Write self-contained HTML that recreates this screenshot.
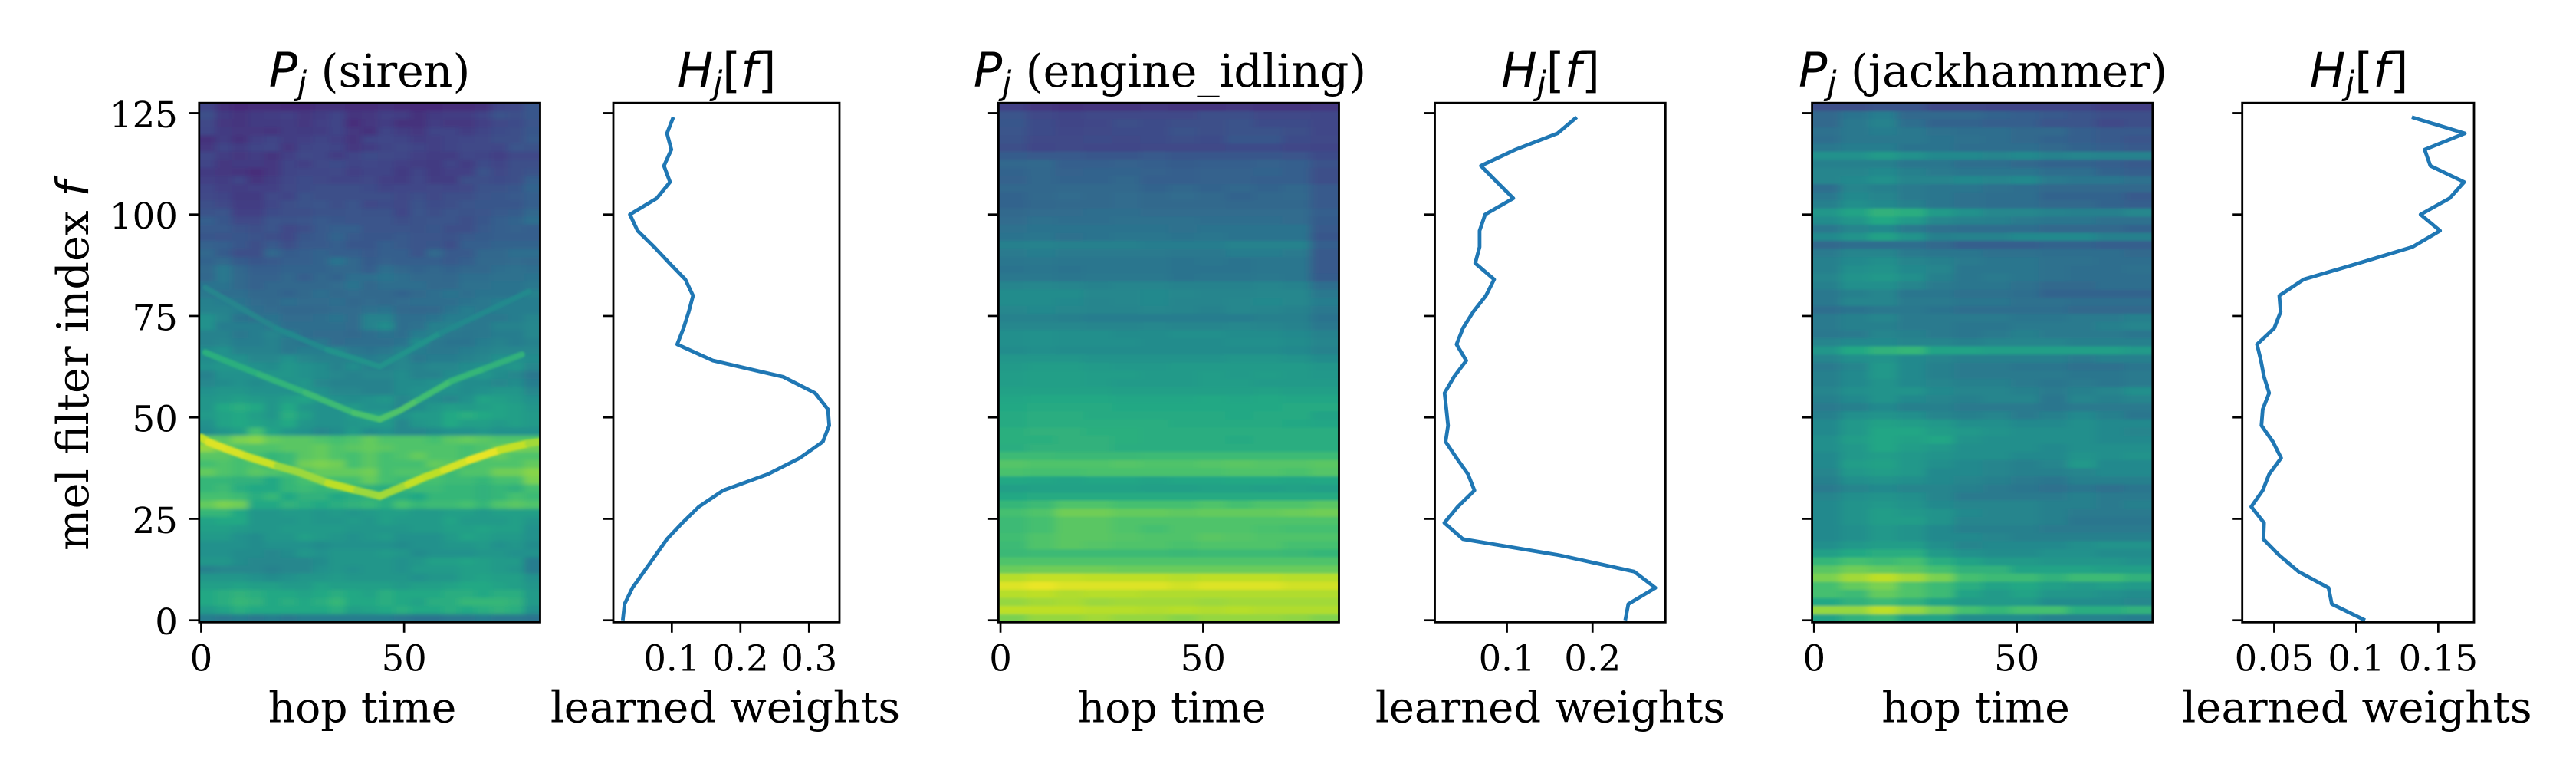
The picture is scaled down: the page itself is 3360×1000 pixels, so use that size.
<!DOCTYPE html>
<html lang="en">
<head>
<meta charset="utf-8">
<title>Learned mel filter weights</title>
<style>
html,body{margin:0;padding:0;background:#fff;}
svg{display:block;}
text{fill:#000;}
.ser{font-family:"DejaVu Serif","Liberation Serif",serif;}
.lab{font-size:55px;}
.lw{font-size:56px;}
.yl{font-size:57.5px;}
.ttl{font-size:58.5px;}
.tick{font-size:46.5px;}
.m{font-family:"DejaVu Sans","Liberation Sans",sans-serif;font-style:italic;}
.mu{font-family:"DejaVu Sans","Liberation Sans",sans-serif;font-style:normal;}
.big{font-size:62px;}
.sub{font-size:43px;}
</style>
</head>
<body>
<svg id="fig" xmlns="http://www.w3.org/2000/svg" width="3360" height="1000" viewBox="0 0 3360 1000">
<rect x="0" y="0" width="3360" height="1000" fill="#ffffff"/>
<defs>
<filter id="blurA" filterUnits="userSpaceOnUse" x="0" y="0" width="3360" height="1000"><feGaussianBlur stdDeviation="5 2.5"/></filter>
<filter id="blurB" filterUnits="userSpaceOnUse" x="0" y="0" width="3360" height="1000"><feGaussianBlur stdDeviation="6 1.5"/></filter>
<filter id="blurR" filterUnits="userSpaceOnUse" x="0" y="0" width="3360" height="1000"><feGaussianBlur stdDeviation="1.4"/></filter>
</defs>
<g id="plots"></g>

<text class="ser ttl" x="482" y="113" text-anchor="middle"><tspan class="m big">P</tspan><tspan class="m sub" dy="10">j</tspan><tspan dy="-10"> (siren)</tspan></text>
<text class="ser ttl" x="948" y="113" text-anchor="middle"><tspan class="m big">H</tspan><tspan class="m sub" dy="10">j</tspan><tspan class="mu big" dy="-10">[</tspan><tspan class="m big">f</tspan><tspan class="mu big">]</tspan></text>
<text class="ser ttl" x="1526" y="113" text-anchor="middle"><tspan class="m big">P</tspan><tspan class="m sub" dy="10">j</tspan><tspan dy="-10"> (engine_idling)</tspan></text>
<text class="ser ttl" x="2022.5" y="113" text-anchor="middle"><tspan class="m big">H</tspan><tspan class="m sub" dy="10">j</tspan><tspan class="mu big" dy="-10">[</tspan><tspan class="m big">f</tspan><tspan class="mu big">]</tspan></text>
<text class="ser ttl" x="2586.5" y="113" text-anchor="middle"><tspan class="m big">P</tspan><tspan class="m sub" dy="10">j</tspan><tspan dy="-10"> (jackhammer)</tspan></text>
<text class="ser ttl" x="3077" y="113" text-anchor="middle"><tspan class="m big">H</tspan><tspan class="m sub" dy="10">j</tspan><tspan class="mu big" dy="-10">[</tspan><tspan class="m big">f</tspan><tspan class="mu big">]</tspan></text>

<text class="ser yl" transform="translate(115,477) rotate(-90)" text-anchor="middle">mel filter index <tspan class="m">f</tspan></text>

<text class="ser lab" x="472.5" y="941.5" text-anchor="middle">hop time</text>
<text class="ser lw" x="946" y="941.5" text-anchor="middle">learned weights</text>
<text class="ser lab" x="1528.7" y="941.5" text-anchor="middle">hop time</text>
<text class="ser lw" x="2022" y="941.5" text-anchor="middle">learned weights</text>
<text class="ser lab" x="2577" y="941.5" text-anchor="middle">hop time</text>
<text class="ser lw" x="3074.5" y="941.5" text-anchor="middle">learned weights</text>
</svg>

<script>
// ---- tick values and labels ----
const melTicks = [0, 25, 50, 75, 100, 125];
const melTickLabels = ["0", "25", "50", "75", "100", "125"];
const hopTicks = [0, 50];
const hopTickLabels = ["0", "50"];
const sirenWeightTicks = [0.1, 0.2, 0.3];
const sirenWeightTickLabels = ["0.1", "0.2", "0.3"];
const engineWeightTicks = [0.1, 0.2];
const engineWeightTickLabels = ["0.1", "0.2"];
const jackhammerWeightTicks = [0.05, 0.1, 0.15];
const jackhammerWeightTickLabels = ["0.05", "0.1", "0.15"];

// ---- learned weight curves: mel filter index and H_j[f] ----
const weightMels = [0,4,8,12,16,20,24,28,32,36,40,44,48,52,56,60,64,68,72,76,80,84,88,92,96,100,104,108,112,116,120,124];
const sirenWeights = [.0285,.0311,.0426,.0594,.0762,.0929,.1153,.1395,.1749,.2400,.2866,.3201,.3294,.3276,.3089,.2624,.1600,.1078,.1171,.1246,.1309,.1197,.0966,.0743,.0501,.0389,.0780,.0974,.0885,.0993,.0929,.1022];
const engineWeights = [.2382,.2418,.2734,.2487,.1621,.0487,.0269,.0427,.0621,.0546,.0412,.0284,.0313,.0293,.0272,.0382,.0525,.0412,.0487,.0606,.0755,.0851,.0630,.0681,.0681,.0746,.1075,.0884,.0696,.1099,.1591,.1815];
const jackhammerWeights = [.1054,.0851,.0831,.0648,.0531,.0434,.0438,.0360,.0430,.0469,.0542,.0492,.0422,.0430,.0469,.0438,.0419,.0395,.0500,.0539,.0531,.0679,.1015,.1342,.1511,.1392,.1569,.1658,.1452,.1417,.1662,.1339];

// ---- spectrogram ridges in the siren panel ----
const sirenMainRidgeHops = [0,1.8,6.8,11.2,18.8,23.8,31.3,38.4,44,51,55.4,59.8,66.1,73.7,80.7,83.5];
const sirenMainRidgeMels = [45,43.9,42,40.4,38,36.6,33.8,32,30.6,33.5,35.4,37,39.5,42,43.6,44];
const sirenMainRidgeLevels = [88,94,96,92,92,78,92,88,82,90,92,88,99,94,88,84];
const sirenSecondRidgeHops = [1,14.3,25.7,37.7,44,49,53.5,61.7,70,79];
const sirenSecondRidgeMels = [66,60.6,56.1,51.1,49.5,51.7,54.3,59,62.1,65.5];
const sirenSecondRidgeLevels = [62,64,66,70,72,72,72,66,66,62];
const sirenThirdRidgeHops = [1,18.4,31,44,59,80.7];
const sirenThirdRidgeMels = [82,72,66.7,62.5,70.8,81];
const sirenThirdRidgeLevels = [44,46,48,54,48,46];

// ---- spectrogram levels (0-99), top row = highest mel band, each row 2 mels ----
const sirenHeat = [
[20,14,12,13,13,12,12,14,14,13,13,14,13,12,12,13,13,14,20,22,27],
[24,17,15,17,18,19,16,18,20,15,16,19,18,14,17,18,18,20,25,24,27],
[22,16,15,17,17,18,16,19,20,13,16,18,14,14,18,16,16,19,22,23,26],
[21,17,16,16,15,18,17,18,20,16,14,20,18,16,20,20,18,20,23,24,27],
[14,18,14,19,20,18,19,20,19,15,20,21,20,18,19,20,21,22,24,24,28],
[16,20,18,20,21,16,20,21,20,16,18,20,22,20,19,20,22,22,21,26,25],
[21,18,16,18,15,19,22,21,18,20,23,22,21,19,18,18,21,20,19,22,22],
[20,16,17,17,16,20,19,22,23,20,21,20,19,18,17,20,18,23,20,24,24],
[17,16,15,13,16,20,21,21,22,19,20,20,17,20,17,19,19,25,22,24,25],
[19,18,20,15,18,21,23,22,20,20,22,19,18,21,18,18,24,24,23,24,30],
[21,19,18,19,19,22,23,24,24,24,23,20,21,21,22,21,22,25,25,27,32],
[22,20,17,17,22,20,25,24,24,24,24,24,22,24,22,24,24,26,27,28,30],
[24,22,18,18,21,24,25,26,24,26,22,23,22,25,23,24,26,27,27,27,30],
[25,26,19,19,23,24,24,25,25,26,25,25,21,26,24,26,25,26,28,29,33],
[30,27,22,22,26,25,26,28,27,26,26,26,24,25,26,26,24,27,30,32,36],
[28,28,25,24,26,22,24,28,30,30,26,26,26,25,27,24,24,28,30,31,30],
[27,26,27,25,24,22,27,28,32,28,27,27,28,26,26,25,28,29,30,30,30],
[31,30,27,24,28,24,28,28,30,27,27,30,28,26,27,24,30,30,32,32,32],
[33,29,24,24,33,29,30,32,30,30,28,30,30,26,34,28,28,33,33,36,36],
[32,34,29,27,28,30,30,32,38,33,29,31,30,30,30,28,30,34,34,35,34],
[34,40,33,30,30,32,32,32,33,33,30,36,33,32,33,32,33,33,36,37,36],
[33,40,34,31,31,33,30,33,32,36,36,38,36,34,34,33,36,36,37,37,38],
[38,38,34,31,33,33,33,33,35,38,33,36,36,36,34,34,37,37,38,38,40],
[40,36,36,33,33,32,34,36,34,35,34,34,32,34,36,38,36,38,38,38,44],
[43,42,38,35,34,36,35,35,36,33,35,34,35,36,36,36,38,40,42,42,42],
[44,44,42,36,35,33,33,34,35,35,37,38,34,33,34,38,42,40,42,42,42],
[50,45,38,37,38,35,35,36,38,35,44,44,36,36,38,42,42,40,40,42,45],
[50,42,42,42,40,36,36,36,36,35,44,48,36,37,43,44,40,40,44,44,46],
[44,44,40,42,45,42,36,35,35,34,36,38,36,42,44,40,39,40,42,42,46],
[44,45,42,42,44,40,38,40,35,36,36,36,38,48,40,38,38,42,44,42,44],
[48,50,44,44,44,40,42,42,45,40,38,40,44,42,40,40,42,44,46,46,46],
[48,50,50,46,46,50,46,44,44,44,42,44,46,40,42,42,44,46,50,50,48],
[50,52,52,50,48,52,50,48,44,48,44,44,46,44,46,46,48,50,50,52,46],
[44,50,50,50,52,52,50,48,46,44,46,46,48,44,44,48,50,52,48,46,40],
[46,48,50,48,50,50,52,46,44,44,44,44,48,48,50,52,48,48,46,48,42],
[50,52,52,50,50,50,52,50,46,46,44,44,48,50,50,50,48,50,52,52,46],
[52,54,56,54,52,55,58,52,50,48,50,52,46,50,48,46,50,58,56,54,50],
[52,60,62,60,52,60,52,50,50,54,50,50,46,48,52,55,54,56,58,56,52],
[54,58,60,56,52,62,56,50,50,54,56,56,50,54,54,60,62,60,58,56,54],
[50,58,60,58,55,60,52,50,50,52,54,54,46,52,54,60,56,56,54,56,54],
[48,52,56,70,58,52,50,46,48,54,48,50,46,46,48,50,50,52,50,50,50],
[76,74,80,82,76,74,74,72,70,72,76,72,72,72,70,74,76,74,72,72,72],
[84,76,72,72,72,74,74,76,72,74,76,74,72,72,72,72,70,72,76,80,78],
[74,74,70,70,66,68,74,76,72,70,74,70,72,76,72,72,70,72,76,72,72],
[70,72,70,72,66,68,78,80,78,70,74,70,70,70,76,74,70,72,72,72,76],
[76,72,70,74,72,70,72,76,76,76,78,70,72,72,70,68,72,72,78,78,82],
[66,66,64,64,60,66,70,72,70,70,76,70,68,70,70,68,68,66,70,70,80],
[66,68,62,60,60,66,68,66,68,66,64,62,64,68,68,66,66,64,66,64,70],
[70,70,68,62,66,60,64,64,60,62,64,62,62,60,66,66,66,64,66,70,68],
[76,80,78,60,60,64,62,60,62,64,66,62,70,66,68,68,70,66,72,74,72],
[66,66,60,52,52,54,54,52,54,52,54,56,56,54,54,56,56,54,56,56,56],
[58,60,60,52,52,52,54,52,52,54,52,56,54,54,54,58,54,54,54,56,52],
[56,56,54,52,52,54,54,54,54,52,52,52,52,54,54,56,56,58,56,56,50],
[54,54,50,48,52,52,56,54,52,50,52,54,50,50,50,54,58,56,54,54,50],
[50,50,50,48,50,50,50,48,50,50,50,50,48,50,50,52,52,54,50,52,48],
[50,50,48,48,46,48,52,50,52,52,52,54,52,48,50,50,50,52,52,50,50],
[52,52,48,46,46,46,46,48,52,52,52,52,50,52,56,56,58,56,54,54,42],
[44,46,46,46,44,46,46,50,52,50,52,52,50,54,54,54,56,56,54,52,42],
[52,52,52,50,48,50,52,52,54,52,52,52,52,50,52,52,56,58,56,56,50],
[56,56,58,56,56,54,54,58,56,56,56,56,54,56,56,58,60,60,58,56,52],
[60,62,64,62,60,60,58,60,62,60,58,62,60,60,60,62,62,60,62,62,54],
[60,62,66,64,60,62,60,62,66,60,60,62,60,58,62,62,66,66,66,64,54],
[54,58,62,60,60,60,60,60,62,56,58,60,62,60,60,62,60,62,64,62,50],
[42,40,42,40,42,40,42,42,42,42,42,42,40,38,38,40,40,42,40,40,38]
];
const engineHeat = [
[19,16,14,15,15,16,15,15,16,15,15,16],
[26,22,20,22,22,22,22,24,24,22,22,21],
[27,23,20,21,24,23,24,24,25,23,23,21],
[26,23,21,22,23,23,25,24,25,25,24,21],
[25,22,22,23,22,23,24,23,27,27,23,22],
[24,21,22,21,21,22,22,22,23,23,21,20],
[29,28,28,27,27,28,27,27,27,27,26,23],
[33,34,30,30,31,30,29,30,30,31,30,25],
[32,33,31,32,32,31,30,31,31,32,30,24],
[31,33,32,32,33,30,30,31,31,30,30,24],
[33,33,34,34,34,32,33,32,33,32,33,28],
[32,34,35,34,35,34,35,34,32,33,34,28],
[32,33,34,34,35,34,34,34,33,33,33,28],
[34,35,35,36,36,35,35,35,35,35,35,30],
[35,37,36,36,37,37,37,36,36,36,35,29],
[37,38,38,38,38,38,37,38,38,38,38,28],
[38,39,37,38,39,39,38,39,38,38,38,27],
[43,44,43,43,43,42,42,42,44,44,44,30],
[41,42,41,41,41,41,40,40,42,42,41,28],
[39,40,39,39,39,39,38,39,38,39,39,28],
[38,39,38,39,39,39,38,38,38,39,39,28],
[40,40,39,40,40,40,38,39,39,40,39,29],
[45,46,45,44,45,45,44,44,44,45,44,36],
[48,48,48,46,46,47,46,45,45,46,46,40],
[48,48,47,45,46,47,45,45,46,47,46,42],
[46,47,46,45,45,46,45,44,46,45,44,40],
[44,44,43,42,42,42,42,42,42,43,43,38],
[46,46,46,45,45,46,45,45,46,45,44,40],
[49,50,49,49,48,48,49,49,48,48,47,44],
[49,50,49,49,49,48,48,48,49,49,48,45],
[48,49,48,48,48,48,48,48,48,48,47,44],
[52,52,52,51,51,51,51,51,52,52,51,48],
[54,55,55,54,53,53,54,54,54,54,54,52],
[55,56,56,55,55,54,54,55,54,55,54,53],
[55,56,56,55,54,54,54,55,55,54,54,54],
[57,57,57,57,56,56,56,56,56,57,56,56],
[59,60,60,60,59,59,59,60,59,60,59,59],
[60,61,61,61,60,60,60,60,60,60,61,61],
[61,62,62,61,61,61,61,61,60,61,61,58],
[61,62,62,62,62,62,61,61,61,61,60,59],
[63,64,64,63,63,62,62,62,62,62,62,62],
[63,63,64,64,63,62,62,62,61,62,62,62],
[62,64,64,64,62,62,62,62,62,62,62,62],
[68,68,67,67,67,68,68,68,68,68,68,68],
[73,72,72,72,73,72,72,73,74,73,73,74],
[71,70,70,71,71,71,71,71,72,72,71,73],
[60,59,58,59,59,58,59,59,60,60,59,60],
[56,57,57,57,57,56,56,57,57,56,57,56],
[60,61,61,61,61,61,61,61,61,61,61,61],
[66,68,72,72,70,70,70,72,70,72,72,74],
[70,72,78,78,76,76,75,76,76,76,77,78],
[68,70,74,74,72,72,72,72,72,72,72,72],
[68,70,74,74,72,70,72,72,72,71,70,70],
[69,72,74,74,73,72,72,74,73,72,72,72],
[68,72,74,73,72,72,71,72,72,72,70,70],
[67,68,68,68,68,68,67,68,68,68,67,66],
[72,72,72,72,72,72,72,72,72,72,72,72],
[77,78,78,78,77,77,77,77,77,77,77,77],
[89,91,91,90,90,90,89,90,90,90,89,89],
[95,97,95,95,95,95,93,95,95,95,93,93],
[89,90,88,89,89,88,88,88,88,88,88,88],
[84,86,87,85,86,86,86,85,86,86,86,86],
[90,90,90,89,89,88,89,88,89,88,88,88],
[80,84,84,86,84,84,82,84,84,84,83,81]
];
const jackhammerHeat = [
[24,24,26,26,22,22,20,20,20,20,18,18],
[34,38,42,34,34,34,32,30,28,26,24,24],
[34,40,44,36,32,32,30,30,26,26,22,24],
[37,40,42,40,37,36,36,34,34,30,28,28],
[36,40,40,40,38,37,36,34,32,30,28,26],
[40,42,42,38,38,36,36,36,34,32,30,28],
[50,50,54,50,47,47,45,47,44,45,44,44],
[43,43,43,39,39,36,36,34,32,32,30,28],
[45,45,47,43,41,39,39,39,36,36,32,30],
[45,47,50,45,45,47,45,47,41,39,39,37],
[36,45,43,41,39,39,37,36,34,34,34,34],
[40,47,45,41,39,37,36,36,32,32,32,28],
[43,49,47,43,39,37,36,36,34,34,32,30],
[52,58,64,62,54,50,46,46,44,43,43,46],
[48,52,60,54,46,44,43,41,39,39,37,37],
[40,45,47,41,37,36,36,36,34,34,34,32],
[47,51,57,51,43,44,44,47,47,47,43,43],
[34,36,36,36,34,30,30,30,32,32,30,30],
[41,45,45,41,39,39,37,37,36,36,36,34],
[43,47,49,45,43,41,39,39,37,37,36,36],
[43,49,51,47,45,39,39,39,37,36,36,37],
[45,51,53,49,43,39,41,39,37,36,36,36],
[43,49,49,45,41,39,39,37,34,34,36,36],
[40,43,45,39,39,37,37,36,32,32,32,32],
[40,45,45,41,41,39,39,37,37,36,36,36],
[36,38,40,40,38,36,36,36,36,34,34,34],
[41,43,45,41,41,41,41,39,39,41,41,43],
[41,43,43,41,41,39,39,41,41,41,43,45],
[40,41,45,43,41,39,41,43,41,41,41,39],
[45,47,47,45,45,43,45,45,45,43,43,43],
[52,60,64,66,58,58,56,56,56,56,56,54],
[45,49,51,47,45,43,43,43,43,41,43,43],
[41,45,53,47,43,41,41,39,39,37,37,39],
[43,47,53,47,43,41,41,41,41,39,39,41],
[43,47,51,47,45,43,43,41,39,41,39,41],
[45,49,51,51,47,45,45,43,41,43,45,49],
[43,47,51,47,45,43,45,45,39,45,43,45],
[41,43,47,43,43,41,41,41,39,41,41,41],
[43,49,51,49,45,43,45,41,43,47,43,39],
[47,53,57,55,53,49,49,47,47,49,47,47],
[47,53,59,59,55,53,51,49,49,49,47,45],
[49,55,59,57,59,51,49,49,49,49,47,47],
[49,53,59,55,53,49,49,49,47,49,49,49],
[47,53,55,53,51,49,49,47,47,51,49,51],
[47,55,57,53,49,47,45,43,45,53,47,47],
[45,53,55,53,47,47,45,43,43,45,47,47],
[43,49,51,49,47,45,43,41,39,43,43,43],
[41,45,47,45,45,43,41,39,37,39,37,39],
[45,49,51,49,45,41,41,41,41,43,41,41],
[47,51,53,51,47,45,45,45,43,43,41,43],
[47,51,55,53,51,47,45,45,43,41,41,41],
[47,51,55,55,51,45,45,45,43,39,39,39],
[47,49,53,51,47,43,43,43,41,41,41,41],
[47,49,53,51,47,47,45,43,43,43,43,43],
[49,53,55,55,49,45,47,47,47,49,51,51],
[56,60,62,62,54,50,48,48,50,50,48,48],
[66,70,68,70,62,58,54,54,52,52,52,50],
[74,78,76,74,70,64,64,58,58,58,56,56],
[80,86,90,86,80,70,68,68,64,68,68,64],
[70,76,80,72,68,62,58,60,56,54,56,54],
[70,68,76,72,68,58,54,58,52,52,50,48],
[60,64,68,64,58,54,54,54,48,48,48,46],
[84,84,90,84,78,70,66,70,70,62,62,64],
[58,64,68,58,58,48,48,48,44,44,44,42]
];

// ---- colormap and axis geometry ----
const viridisStops = ["#440154","#482475","#414487","#355f8d","#2a788e","#21918c","#22a884","#44bf70","#7ad151","#bddf26","#fde725"];
function viridis(level){
  const t = Math.max(0, Math.min(1, level / 100)) * 10;
  const i = Math.min(9, Math.floor(t));
  const f = t - i;
  const a = viridisStops[i], b = viridisStops[i + 1];
  const c = [1, 3, 5].map(function(k){
    const p = parseInt(a.substr(k, 2), 16), q = parseInt(b.substr(k, 2), 16);
    return Math.round(p + (q - p) * f);
  });
  return "rgb(" + c.join(",") + ")";
}
const SVGNS = "http://www.w3.org/2000/svg";
const AXIS_TOP = 134.2, AXIS_BOTTOM = 811.3;
function yScale(mel){ return 808.7 - mel * 5.29; }
function make(tag, parent, attrs){
  const el = document.createElementNS(SVGNS, tag);
  for (const k in attrs) el.setAttribute(k, attrs[k]);
  parent.appendChild(el);
  return el;
}
const root = document.getElementById("plots");

function drawYTicks(g, left, withLabels){
  melTicks.forEach(function(mel, i){
    const tick = make("line", g, {x1: left - 13.5, x2: left, y1: yScale(mel), y2: yScale(mel), stroke: "#000", "stroke-width": 2.7});
    
    
    if (withLabels) {
      const lab = make("text", g, {x: left - 28, y: yScale(mel) + 18.5, "text-anchor": "end", "class": "ser tick"});
      lab.textContent = melTickLabels[i];
      
      
    }
  });
}
function drawXTicks(g, xScale, values, labels){
  values.forEach(function(v, i){
    const x = xScale(v);
    const tick = make("line", g, {x1: x, x2: x, y1: AXIS_BOTTOM, y2: AXIS_BOTTOM + 13.5, stroke: "#000", "stroke-width": 2.7});
    
    
    const lab = make("text", g, {x: x, y: 874.5, "text-anchor": "middle", "class": "ser tick"});
    lab.textContent = labels[i];
    
    
  });
}
function drawSpines(g, left, right){
  const frame = make("rect", g, {x: left, y: AXIS_TOP, width: right - left, height: AXIS_BOTTOM - AXIS_TOP, fill: "none", stroke: "#000", "stroke-width": 2.8});
  
  
}
function drawRidge(g, xScale, hops, mels, levels, width){
  for (let i = 0; i + 1 < hops.length; i++) {
    const seg = make("line", g, {x1: xScale(hops[i]), y1: yScale(mels[i]), x2: xScale(hops[i + 1]), y2: yScale(mels[i + 1]),
      stroke: viridis((levels[i] + levels[i + 1]) / 2), "stroke-width": width, "stroke-linecap": "round"});
    
    
  }
}
function drawHeatPanel(id, left, right, matrix, blur, withLabels, ridges){
  const hopCount = 84;
  const xScale = function(hop){ return left + (hop + 0.5) * (right - left) / hopCount; };
  const panel = make("g", root, {id: id});
  
  
  const clip = make("clipPath", panel, {id: id + "-clip"});
  make("rect", clip, {x: left, y: AXIS_TOP, width: right - left, height: AXIS_BOTTOM - AXIS_TOP});
  const clipped = make("g", panel, {"clip-path": "url(#" + id + "-clip)"});
  const cells = make("g", clipped, {filter: "url(#" + blur + ")"});
  
  
  matrix.forEach(function(row, r){
    const melHigh = 127.5 - 2 * r, melLow = melHigh - 2;
    const step = hopCount / row.length;
    row.forEach(function(level, c){
      let x0 = xScale(c * step - 0.5), x1 = xScale((c + 1) * step - 0.5);
      let y0 = yScale(melHigh), y1 = yScale(melLow);
      if (c === 0) x0 -= 30;
      if (c === row.length - 1) x1 += 30;
      if (r === 0) y0 -= 14;
      if (r === matrix.length - 1) y1 += 14;
      const cell = make("rect", cells, {x: x0, y: y0, width: x1 - x0 + 0.6, height: y1 - y0 + 0.6, fill: viridis(level)});
      
      
    });
  });
  if (ridges) {
    const ridgeGroup = make("g", clipped, {filter: "url(#blurR)"});
    
    
    ridges(ridgeGroup, xScale);
  }
  drawYTicks(panel, left, withLabels);
  drawXTicks(panel, xScale, hopTicks, hopTickLabels);
  drawSpines(panel, left, right);
}
function drawWeightPanel(id, left, right, lo, hi, values, ticks, tickLabels){
  const xScale = function(v){ return left + (v - lo) / (hi - lo) * (right - left); };
  const panel = make("g", root, {id: id});
  
  
  const pts = values.map(function(v, i){ return xScale(v).toFixed(2) + "," + yScale(weightMels[i]).toFixed(2); }).join(" ");
  const line = make("polyline", panel, {points: pts, fill: "none", stroke: "#1f77b4", "stroke-width": 4.8, "stroke-linejoin": "round", "stroke-linecap": "butt"});
  
  
  drawYTicks(panel, left, false);
  drawXTicks(panel, xScale, ticks, tickLabels);
  drawSpines(panel, left, right);
}

drawHeatPanel("siren", 259.8, 704.5, sirenHeat, "blurA", true, function(g, xScale){
  drawRidge(g, xScale, sirenThirdRidgeHops, sirenThirdRidgeMels, sirenThirdRidgeLevels, 7);
  drawRidge(g, xScale, sirenSecondRidgeHops, sirenSecondRidgeMels, sirenSecondRidgeLevels, 8);
  drawRidge(g, xScale, sirenMainRidgeHops, sirenMainRidgeMels, sirenMainRidgeLevels, 10);
});
drawWeightPanel("siren-weights", 800, 1095, 0.0147, 0.3444, sirenWeights, sirenWeightTicks, sirenWeightTickLabels);
drawHeatPanel("engine", 1302.4, 1746.5, engineHeat, "blurB", false, null);
drawWeightPanel("engine-weights", 1871.5, 2172.3, 0.0158, 0.2851, engineWeights, engineWeightTicks, engineWeightTickLabels);
drawHeatPanel("jackhammer", 2363.6, 2807.8, jackhammerHeat, "blurB", false, null);
drawWeightPanel("jackhammer-weights", 2924.7, 3227, 0.0305, 0.1718, jackhammerWeights, jackhammerWeightTicks, jackhammerWeightTickLabels);
</script>
</body>
</html>
